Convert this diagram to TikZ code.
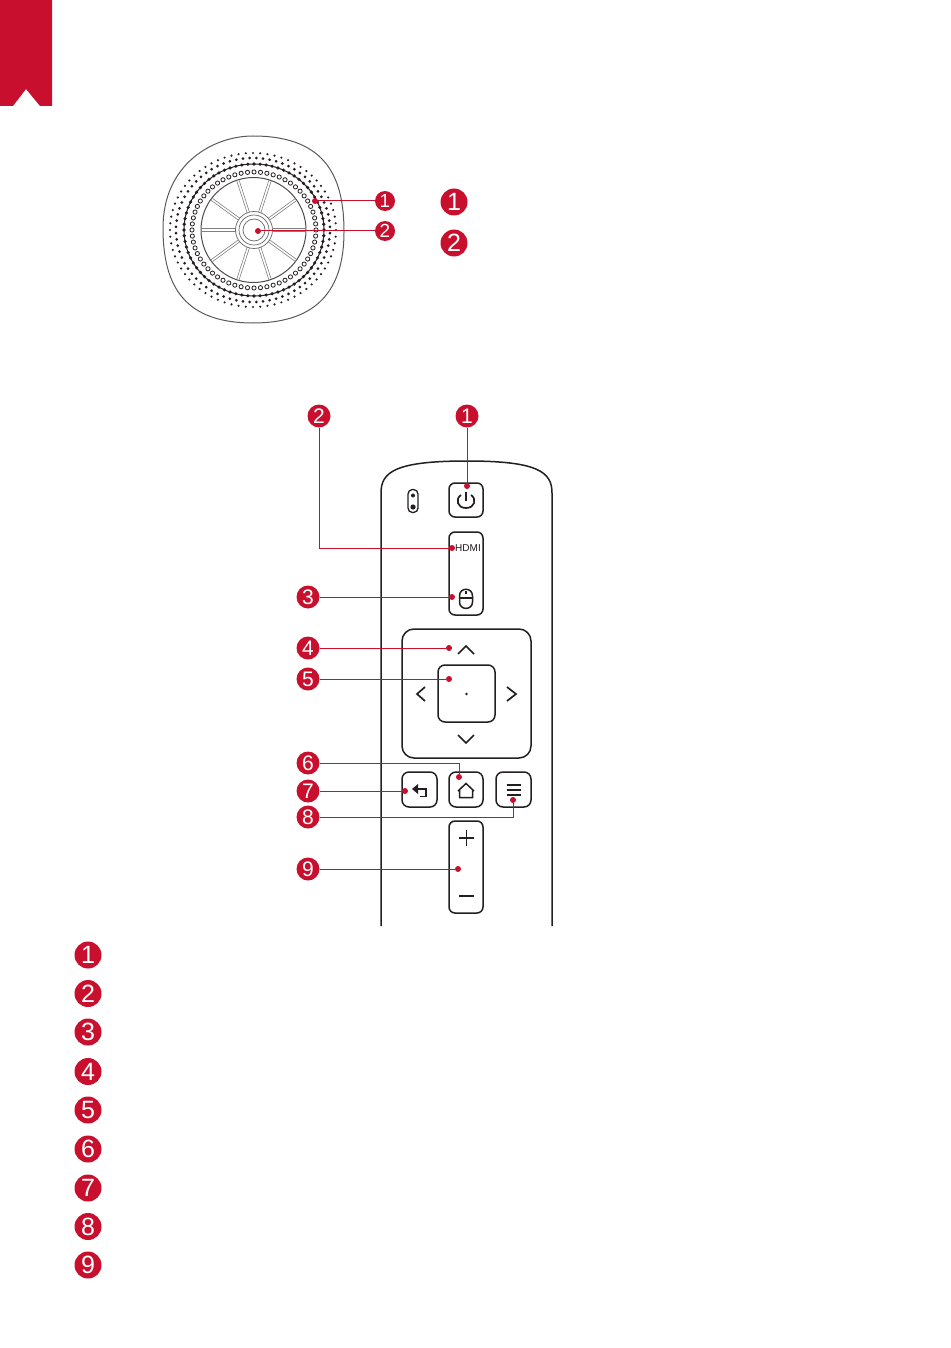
\documentclass[tikz,border=0pt]{standalone}
\usepackage{fontspec}
\setsansfont{Liberation Sans}
\usepackage{xcolor}
\definecolor{brandred}{HTML}{C8102E}
\definecolor{inkgray}{HTML}{231F20}
\tikzset{
  badge/.style={circle, fill=brandred, text=white, inner sep=0pt, minimum size=23pt, font=\sffamily\fontsize{21}{21}\selectfont},
  smallbadge/.style={badge, minimum size=20pt, font=\sffamily\fontsize{19}{19}\selectfont},
  bigbadge/.style={badge, minimum size=27pt, font=\sffamily\fontsize{25}{25}\selectfont},
  target/.style={circle, fill=brandred, inner sep=0pt, minimum size=6pt},
  wire/.style={draw=brandred, line width=1pt},
  keybox/.style={draw=inkgray, line width=1.5pt, rounded corners=6pt, inner sep=0pt},
  icon/.style={draw=inkgray, line width=1.5pt},
}
\begin{document}
\begin{tikzpicture}[x=1pt,y=-1pt]
    \useasboundingbox (0,0) rectangle (950,1348);
    \fill[brandred] (0,0) -- (52,0) -- (52,106) -- (40,106) -- (26,89) -- (13,106) -- (0,106) -- cycle;

    \draw[line width=1pt, black!65] (253,136) .. controls (329,136) and (344,181) .. (344,232) .. controls (344,297) and (310,323) .. (253,323) .. controls (186,323) and (163,288) .. (163,228) .. controls (163,164) and (213,136) .. (253,136) -- cycle;
    \foreach \a in {0,5,...,355}
        \fill[inkgray] ({253+83*cos(\a)},{230+77*sin(\a)}) circle (1.2pt);
    \foreach \a in {2.5,7.5,...,357.5}
        \fill[inkgray] ({253+77*cos(\a)},{230+72*sin(\a)}) circle (1.5pt);
    \draw[inkgray, line width=1pt] (254,230) ellipse (70 and 66);
    \foreach \a in {0,5,...,355}
        \fill[inkgray] ({254+70*cos(\a)},{230+66*sin(\a)}) circle (1.8pt);
    \foreach \a in {0,6,...,354}
        \draw[inkgray, line width=0.8pt] ({254+62*cos(\a)},{230+58*sin(\a)}) circle (2.1pt);
    \draw[black!70, line width=1pt] (253.5,230) circle (52.5);
    \foreach \a in {0,36,...,324} {
        \draw[black!50, line width=0.6pt, rotate around={\a:(254,230)}] (272.5,228.8) -- (306,228.8);
        \draw[black!50, line width=0.6pt, rotate around={\a:(254,230)}] (272.5,231.2) -- (306,231.2);
    }
    \draw[black!60, line width=0.7pt] (254,230) circle (18.5) (254,230) circle (15) (254,230) circle (11);

    \node [target](pa) at (315,201){};
    \node [target](pb) at (258,231){};
    \node [smallbadge](sa) at (385,201){1};
    \node [smallbadge](sb) at (385,231){2};
    \node [bigbadge](la) at (454,202){1};
    \node [bigbadge](lb) at (454,243){2};
    \path[wire]
        (sa) edge (pa)
        (sb) edge (pb)
    ;

    \draw[line width=1.5pt, inkgray] (381,926) -- (381,493) .. controls (381,472) and (395,461) .. (467,461) .. controls (538,461) and (552,472) .. (552,493) -- (552,926);

    \node [draw=inkgray, line width=1.3pt, rounded corners=4.5pt, minimum width=10pt, minimum height=23pt, inner sep=0pt](led) at (413,501){};
    \fill[inkgray] (413,495.5) circle (2pt) (413,507) circle (2.6pt);

    \node [keybox, minimum width=34pt, minimum height=34pt](power) at (466,500){};
    \node [keybox, minimum width=34pt, minimum height=83pt](source) at (466,573.5){};
    \node [keybox, rounded corners=12pt, minimum width=129pt, minimum height=129pt](pad) at (466.5,693.5){};
    \node [keybox, rounded corners=7pt, minimum width=57pt, minimum height=57pt](okkey) at (466.5,693.5){};
    \node [keybox, rounded corners=7pt, minimum width=35pt, minimum height=35pt](back) at (419.5,789.5){};
    \node [keybox, rounded corners=7pt, minimum width=34pt, minimum height=35pt](home) at (466,789.5){};
    \node [keybox, rounded corners=7pt, minimum width=35pt, minimum height=35pt](menu) at (513.5,789.5){};
    \node [keybox, minimum width=34pt, minimum height=92pt](volume) at (466,867){};

    \draw[icon, line width=1.7pt] (461,495) .. controls (455,499) and (457,508) .. (466,508) .. controls (475,508) and (477,499) .. (471,495);
    \draw[icon, line width=1.7pt] (466,492) -- (466,501);
    \node [font=\sffamily\fontsize{10}{10}\selectfont, inner sep=0pt, fill=white, text=inkgray](hdmi) at (468,548){HDMI};
    \draw[icon] (459.5,596) .. controls (459.5,587) and (472.5,587) .. (472.5,596) -- (472.5,602) .. controls (472.5,610.5) and (459.5,610.5) .. (459.5,602) -- cycle;
    \draw[icon] (459.5,598) -- (472.5,598) (466,591) -- (466,594);

    \draw[icon, line width=1.7pt] (458,654) -- (466,646) -- (474,654);
    \draw[icon, line width=1.7pt] (458,735) -- (466,743) -- (474,735);
    \draw[icon, line width=1.7pt] (425,687) -- (417,694) -- (425,701);
    \draw[icon, line width=1.7pt] (507,687) -- (516,694) -- (507,701);
    \fill[inkgray] (466.5,694) circle (1.3pt);

    \draw[icon, line width=1.7pt] (415,789) -- (426,789) -- (426,796.5) -- (420,796.5);
    \fill[inkgray] (412,789) -- (418,784) -- (418,794) -- cycle;
    \draw[icon] (458,791) -- (466,783.5) -- (474,791) (459.5,790) -- (459.5,797.5) -- (472.5,797.5) -- (472.5,790);
    \draw[icon] (506.5,785) -- (520.5,785) (506.5,790) -- (520.5,790) (506.5,795) -- (520.5,795);
    \draw[icon, line width=1.7pt] (459,838) -- (474,838) (466.5,830) -- (466.5,846);
    \draw[icon, line width=1.7pt] (459,896) -- (474,896);

    \node [target](ra) at (467,486){};
    \node [target](rb) at (452,548){};
    \node [target](rc) at (452,597){};
    \node [target](rd) at (449,648){};
    \node [target](re) at (449,679){};
    \node [target](rf) at (459,777){};
    \node [target](rg) at (405,791){};
    \node [target](rh) at (513,800){};
    \node [target](ri) at (458,869){};

    \node [badge](na) at (467,416){1};
    \node [badge](nb) at (319,416){2};
    \node [badge](nc) at (308,597){3};
    \node [badge](nd) at (308,648){4};
    \node [badge](ne) at (308,679){5};
    \node [badge](nf) at (308,763){6};
    \node [badge](ng) at (308,791){7};
    \node [badge](nh) at (308,817){8};
    \node [badge](ni) at (308,869){9};

    \path[wire]
        (na) edge (ra)
        (nc) edge (rc)
        (nd) edge (rd)
        (ne) edge (re)
        (ng) edge (rg)
        (ni) edge (ri)
    ;
    \draw[wire] (nb) |- (rb);
    \draw[wire] (nf) -| (rf);
    \draw[wire] (nh) -| (rh);

    \node [bigbadge](ka) at (88,955){1};
    \node [bigbadge](kb) at (88,993.5){2};
    \node [bigbadge](kc) at (88,1032){3};
    \node [bigbadge](kd) at (88,1071.5){4};
    \node [bigbadge](ke) at (88,1110){5};
    \node [bigbadge](kf) at (88,1149){6};
    \node [bigbadge](kg) at (88,1188){7};
    \node [bigbadge](kh) at (88,1226.5){8};
    \node [bigbadge](ki) at (88,1265){9};
\end{tikzpicture}
\end{document}
